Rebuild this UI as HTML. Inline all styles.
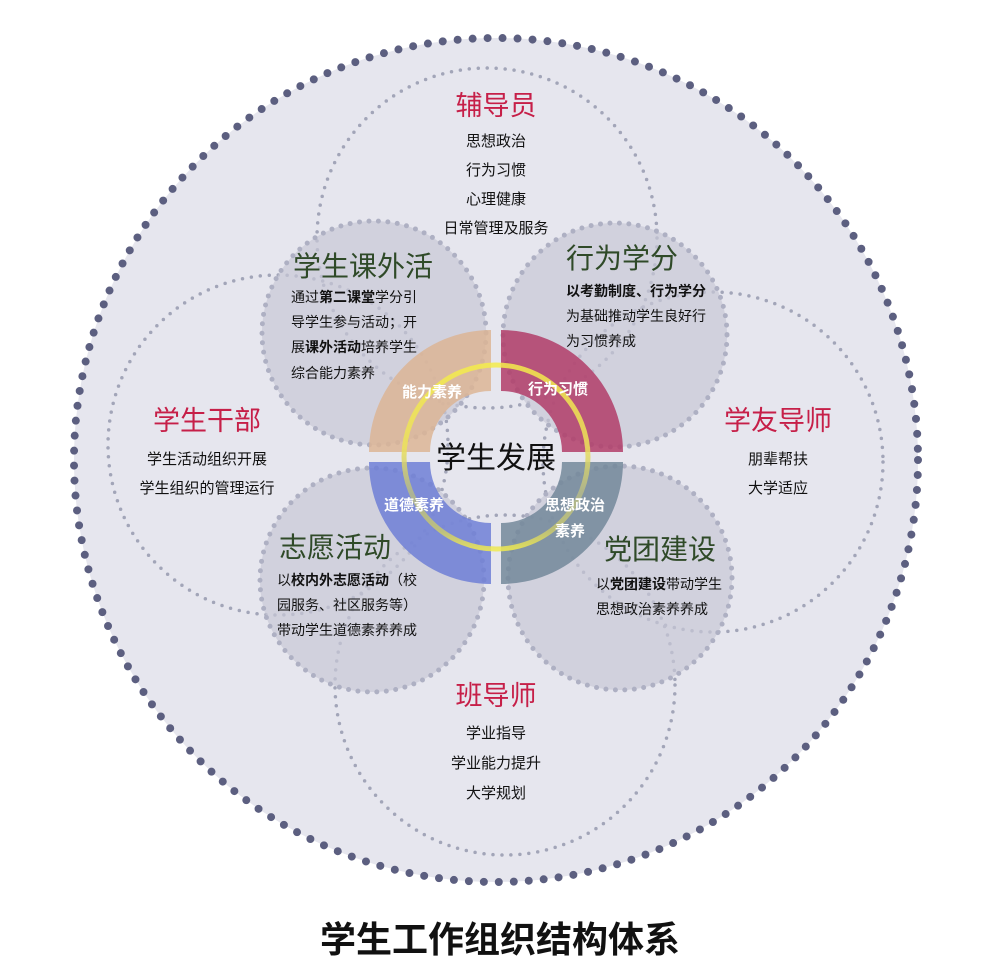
<!DOCTYPE html>
<html><head><meta charset="utf-8"><style>
body{margin:0;background:#fff;}
svg{display:block;font-family:"Liberation Sans","Noto Sans CJK SC",sans-serif;}
</style></head><body>
<svg width="1000" height="962" viewBox="0 0 1000 962">
<defs>
<linearGradient id="yg" x1="0" y1="0" x2="0" y2="1">
<stop offset="0" stop-color="#f4ec4a"/><stop offset="0.45" stop-color="#ece25a"/><stop offset="0.7" stop-color="#b4b98a"/><stop offset="0.9" stop-color="#c8c870"/><stop offset="1" stop-color="#f0ea50"/>
</linearGradient>
</defs>
<circle cx="496" cy="460" r="422" fill="#e6e6ee" stroke="#5c5f80" stroke-width="8" stroke-dasharray="0 15" stroke-linecap="round"/>
<g fill="none" stroke="#a2a5b8" stroke-width="3.5" stroke-dasharray="0 9" stroke-linecap="round">
<circle cx="487" cy="238" r="170"/>
<circle cx="278" cy="445" r="170"/>
<circle cx="713" cy="462" r="170"/>
<circle cx="505" cy="685" r="170"/>
</g>
<g fill="#c8c8d6" fill-opacity="0.7" stroke="#aeb0c3" stroke-width="5" stroke-dasharray="0 9.5" stroke-linecap="round">
<circle cx="374" cy="333" r="112"/>
<circle cx="615" cy="335" r="112"/>
<circle cx="372" cy="580" r="112"/>
<circle cx="620" cy="578" r="112"/>
</g>
<g fill-opacity="0.85">
<path d="M369 452 A122 122 0 0 1 491 330 L491 391 A61 61 0 0 0 430 452 Z" fill="#dcb595"/>
<path d="M501 330 A122 122 0 0 1 623 452 L562 452 A61 61 0 0 0 501 391 Z" fill="#b23d68"/>
<path d="M369 462 A122 122 0 0 0 491 584 L491 523 A61 61 0 0 1 430 462 Z" fill="#6f7fd6"/>
<path d="M501 584 A122 122 0 0 0 623 462 L562 462 A61 61 0 0 1 501 523 Z" fill="#73889a"/>
</g>
<circle cx="496" cy="457" r="92" fill="none" stroke="url(#yg)" stroke-width="5" opacity="0.85"/>
<text x="496" y="468" font-size="30" text-anchor="middle" fill="#111">学生发展</text>
<g font-size="15" font-weight="bold" fill="#fff" text-anchor="middle">
<text x="432" y="397">能力素养</text>
<text x="558" y="394">行为习惯</text>
<text x="414" y="510">道德素养</text>
<text x="575" y="510">思想政治</text>
<text x="570" y="536">素养</text>
</g>
<g font-size="27" fill="#c61f48" text-anchor="middle">
<text x="496" y="115">辅导员</text>
<text x="207" y="430">学生干部</text>
<text x="778" y="430">学友导师</text>
<text x="496" y="705">班导师</text>
</g>
<g font-size="15" fill="#111" text-anchor="middle">
<text x="496" y="146">思想政治</text>
<text x="496" y="175">行为习惯</text>
<text x="496" y="204">心理健康</text>
<text x="496" y="233">日常管理及服务</text>
<text x="207" y="464">学生活动组织开展</text>
<text x="207" y="493">学生组织的管理运行</text>
<text x="778" y="464">朋辈帮扶</text>
<text x="778" y="493">大学适应</text>
<text x="496" y="738">学业指导</text>
<text x="496" y="768">学业能力提升</text>
<text x="496" y="798">大学规划</text>
</g>
<g font-size="28" fill="#2f4a28">
<text x="293" y="276">学生课外活</text>
<text x="566" y="268">行为学分</text>
<text x="279" y="557">志愿活动</text>
<text x="604" y="559">党团建设</text>
</g>
<g font-size="14" fill="#111">
<text x="291" y="302">通过<tspan font-weight="bold">第二课堂</tspan>学分引</text>
<text x="291" y="327">导学生参与活动；开</text>
<text x="291" y="352">展<tspan font-weight="bold">课外活动</tspan>培养学生</text>
<text x="291" y="378">综合能力素养</text>
<text x="566" y="296" font-weight="bold">以考勤制度、行为学分</text>
<text x="566" y="321">为基础推动学生良好行</text>
<text x="566" y="346">为习惯养成</text>
<text x="277" y="585">以<tspan font-weight="bold">校内外志愿活动</tspan>（校</text>
<text x="277" y="610">园服务、社区服务等）</text>
<text x="277" y="635">带动学生道德素养养成</text>
<text x="596" y="589">以<tspan font-weight="bold">党团建设</tspan>带动学生</text>
<text x="596" y="614">思想政治素养养成</text>
</g>
<text x="500" y="952" font-size="36" font-weight="bold" text-anchor="middle" fill="#111">学生工作组织结构体系</text>
</svg>
</body></html>
